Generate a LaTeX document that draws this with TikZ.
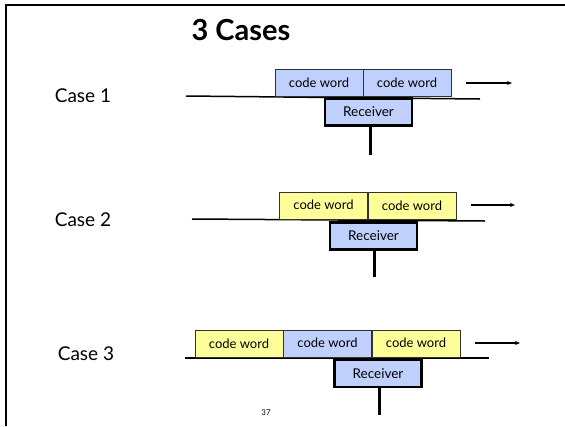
\documentclass[tikz,border=0pt]{standalone}
\usepackage{fontspec}
\setmainfont{Lato}
\usetikzlibrary{arrows.meta}
\definecolor{wordblue}{RGB}{192,208,252}
\definecolor{wordyellow}{RGB}{255,255,153}
\definecolor{boxedge}{RGB}{50,50,50}
\tikzset{
  word/.style={draw=boxedge, line width=0.9pt, inner sep=0pt,
    minimum width=88pt, minimum height=27pt, font=\fontsize{13}{15}\selectfont},
  blueword/.style={word, fill=wordblue},
  yellowword/.style={word, fill=wordyellow},
  receiver/.style={draw=black, line width=2.8pt, fill=wordblue, inner sep=0pt,
    minimum width=87pt, minimum height=27pt, font=\fontsize{13.5}{15}\selectfont},
  channel/.style={line width=1.5pt},
  stem/.style={line width=3pt},
  motion/.style={line width=1.3pt, -{Stealth[length=5pt,width=4pt]}},
  caselabel/.style={font=\fontsize{19}{22}\selectfont},
  frame/.style={line width=2pt}
}
\begin{document}
\begin{tikzpicture}[x=1pt,y=-1pt]
\useasboundingbox (0,0) rectangle (565,426);

% slide frame
\coordinate (fl) at (6,426);
\coordinate (ft) at (6,5);
\coordinate (fr) at (566,5);
\draw[frame] (fl) -- (ft) -- (fr);

\node[font=\bfseries\fontsize{29}{32}\selectfont] (title) at (241,30) {3 Cases};

% ---- case 1 ----
\node[caselabel] (c1) at (83,96) {Case 1};
\coordinate (l1a) at (186,96);
\coordinate (l1b) at (480,99);
\draw[channel] (l1a) -- (l1b);
\node[blueword] (w11) at (319,82.5) {code word};
\node[blueword] (w12) at (407,83) {code word};
\node[receiver] (r1) at (368.5,112) {Receiver};
\coordinate (s1) at (370,155);
\draw[stem] (r1.south -| s1) -- (s1);
\coordinate (a1a) at (466,83);
\coordinate (a1b) at (512,83);
\draw[motion] (a1a) -- (a1b);

% ---- case 2 ----
\node[caselabel] (c2) at (83,220) {Case 2};
\coordinate (l2a) at (192,219);
\coordinate (l2b) at (485,221);
\draw[channel] (l2a) -- (l2b);
\node[yellowword] (w21) at (323.5,205.5) {\raisebox{1.5pt}{code word}};
\node[yellowword] (w22) at (412,205.5) {\raisebox{-2pt}{code word}};
\node[receiver] (r2) at (373.5,236) {Receiver};
\coordinate (s2) at (374,277);
\draw[stem] (r2.south -| s2) -- (s2);
\coordinate (a2a) at (471,205);
\coordinate (a2b) at (515,205);
\draw[motion] (a2a) -- (a2b);

% ---- case 3 ----
\node[caselabel] (c3) at (86,354) {Case 3};
\coordinate (l3a) at (185,358);
\coordinate (l3b) at (489,358);
\draw[channel] (l3a) -- (l3b);
\node[yellowword] (w31) at (239,343.5) {\raisebox{-2.5pt}{code word}};
\node[blueword] (w32) at (327.5,343.5) {\raisebox{1.5pt}{code word}};
\node[yellowword] (w33) at (416,343.5) {\raisebox{1.5pt}{code word}};
\node[receiver] (r3) at (378,373.5) {Receiver};
\coordinate (s3) at (379,415);
\draw[stem] (r3.south -| s3) -- (s3);
\coordinate (a3a) at (475,343);
\coordinate (a3b) at (520,343);
\draw[motion] (a3a) -- (a3b);

\node[font=\fontsize{8}{9}\selectfont] (page) at (266,413) {37};
\end{tikzpicture}
\end{document}
